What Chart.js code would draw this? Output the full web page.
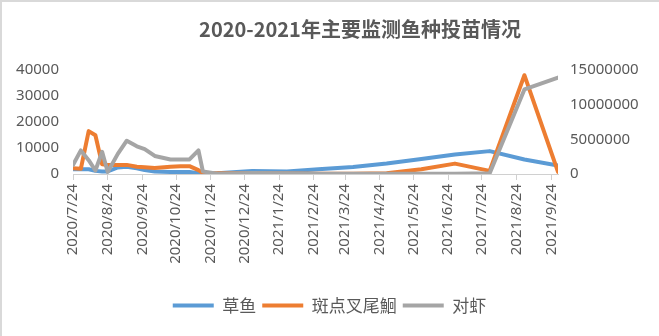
<!DOCTYPE html>
<html>
<head>
<meta charset="utf-8">
<script src="https://cdn.jsdelivr.net/npm/chart.js@4.4.1/dist/chart.umd.min.js"></script>
<style>
    body { margin: 0; background: #ffffff; }
    canvas { display: block; }
</style>
</head>
<body>
<canvas id="grafico" width="659" height="336"></canvas>
<script>
// Título e séries
const titulo = '2020-2021年主要监测鱼种投苗情况';
const nomesSeries = ['草鱼', '斑点叉尾鮰', '对虾'];
const cores = ['#5B9BD5', '#ED7D31', '#A5A5A5'];

// Datas das observações
const datas = [
    '2020/7/24', '2020/7/31', '2020/8/7', '2020/8/13', '2020/8/19', '2020/8/24',
    '2020/9/2', '2020/9/10', '2020/9/19', '2020/9/26', '2020/10/5', '2020/10/19',
    '2020/10/28', '2020/11/5', '2020/11/13', '2020/11/17', '2020/11/30', '2020/12/31',
    '2021/1/31', '2021/2/28', '2021/3/31', '2021/4/30', '2021/5/31', '2021/6/30',
    '2021/7/31', '2021/8/31', '2021/9/30'
];

// Valores (eixo esquerdo)
const caoYu = [
    1800, 1800, 1800, 1200, 1000, 1000,
    2500, 2800, 2200, 1500, 1000, 800,
    800, 800, 300, 200, 300, 1200,
    1000, 1800, 2700, 4000, 5800, 7500,
    8800, 5600, 3300
];
const banDian = [
    2200, 2000, 16500, 14900, 3700, 3500,
    3500, 3500, 2800, 2600, 2300, 2800,
    3000, 3000, 1500, 400, 300, 300,
    200, 100, 100, 300, 1800, 4000,
    1200, 38000, 800
];

// Valores (eixo direito)
const duiXia = [
    1300000, 3400000, 2000000, 500000, 3200000, 300000,
    2900000, 4800000, 4000000, 3600000, 2600000, 2100000,
    2100000, 2100000, 3400000, 350000, 50000, 150000,
    100000, 50000, 50000, 50000, 50000, 50000,
    100000, 12200000, 13900000
];

// Rótulos do eixo X
const rotulosX = [
    '2020/7/24', '2020/8/24', '2020/9/24', '2020/10/24', '2020/11/24', '2020/12/24',
    '2021/1/24', '2021/2/24', '2021/3/24', '2021/4/24', '2021/5/24', '2021/6/24',
    '2021/7/24', '2021/8/24', '2021/9/24'
];
const ticksEsquerdo = [0, 10000, 20000, 30000, 40000];
const ticksDireito = [0, 5000000, 10000000, 15000000];

const corTexto = '#595959';
const fonteEixo = { family: '"Noto Sans", "Noto Sans CJK SC", sans-serif', size: 15 };

// Converte data em número de dias desde a primeira data
function diaDe(texto) {
    const [a, m, d] = texto.split('/').map(Number);
    return (Date.UTC(a, m - 1, d) - Date.UTC(2020, 6, 24)) / 86400000;
}

function pontos(valores) {
    return valores.map((v, i) => ({ x: diaDe(datas[i]), y: v }));
}

// Moldura e título
const pluginMoldura = {
    id: 'moldura',
    beforeDraw(chart) {
        const ctx = chart.ctx;
        ctx.save();
        ctx.fillStyle = '#ffffff';
        ctx.fillRect(0, 0, chart.width, chart.height);
        ctx.strokeStyle = '#d9d9d9';
        ctx.lineWidth = 2;
        ctx.beginPath();
        ctx.moveTo(1, chart.height);
        ctx.lineTo(1, 1);
        ctx.lineTo(chart.width, 1);
        ctx.stroke();
        ctx.restore();
    },
    afterDraw(chart) {
        const ctx = chart.ctx;
        ctx.save();
        ctx.font = 'bold 20px "Noto Sans CJK SC", sans-serif';
        ctx.fillStyle = corTexto;
        ctx.textAlign = 'center';
        ctx.textBaseline = 'middle';
        ctx.fillText(titulo, 360, 29);
        ctx.restore();
    }
};

function criarSerie(indice, valores, eixo, ordem) {
    return {
        label: nomesSeries[indice],
        data: pontos(valores),
        yAxisID: eixo,
        order: ordem,
        borderColor: cores[indice],
        backgroundColor: cores[indice],
        borderWidth: 4,
        borderCapStyle: 'round',
        borderJoinStyle: 'round',
        pointRadius: 0,
        tension: 0,
        fill: false
    };
}

new Chart(document.getElementById('grafico'), {
    type: 'line',
    data: {
        datasets: [
            criarSerie(0, caoYu, 'y', 3),
            criarSerie(1, banDian, 'y', 2),
            criarSerie(2, duiXia, 'y1', 1)
        ]
    },
    plugins: [pluginMoldura],
    options: {
        responsive: false,
        animation: false,
        devicePixelRatio: 1,
        layout: { padding: { top: 70, left: 0, right: 0, bottom: 12 } },
        scales: {
            x: {
                type: 'linear',
                min: 0,
                max: diaDe(datas[datas.length - 1]),
                afterBuildTicks: s => { s.ticks = rotulosX.map(r => ({ value: diaDe(r) })); },
                afterFit: s => { s.height = 117; },
                ticks: {
                    autoSkip: false,
                    minRotation: 90,
                    maxRotation: 90,
                    padding: 4,
                    color: corTexto,
                    font: fonteEixo,
                    callback: (v, i) => rotulosX[i]
                },
                grid: { drawOnChartArea: false, drawTicks: true, tickLength: 6, color: '#d0d0d0' },
                border: { color: '#d0d0d0', width: 1 }
            },
            y: {
                position: 'left',
                min: 0,
                max: 40000,
                afterBuildTicks: s => { s.ticks = ticksEsquerdo.map(v => ({ value: v })); },
                afterFit: s => { s.width = 73; },
                ticks: { padding: 14, color: corTexto, font: fonteEixo, callback: v => String(v) },
                grid: { display: false, drawTicks: false },
                border: { display: false }
            },
            y1: {
                position: 'right',
                min: 0,
                max: 15000000,
                afterBuildTicks: s => { s.ticks = ticksDireito.map(v => ({ value: v })); },
                afterFit: s => { s.width = 101; },
                ticks: { padding: 12, color: corTexto, font: fonteEixo, callback: v => String(v) },
                grid: { display: false, drawTicks: false },
                border: { display: false }
            }
        },
        plugins: {
            title: { display: false },
            tooltip: { enabled: false },
            legend: {
                position: 'bottom',
                labels: {
                    boxWidth: 41,
                    boxHeight: 4,
                    padding: 6,
                    color: corTexto,
                    font: { family: '"Noto Sans CJK SC", sans-serif', size: 17 },
                    sort: (a, b) => a.datasetIndex - b.datasetIndex,
                    generateLabels: chart => Chart.defaults.plugins.legend.labels.generateLabels(chart)
                        .map(item => ({ ...item, lineWidth: 0 }))
                }
            }
        }
    }
});
</script>
</body>
</html>
